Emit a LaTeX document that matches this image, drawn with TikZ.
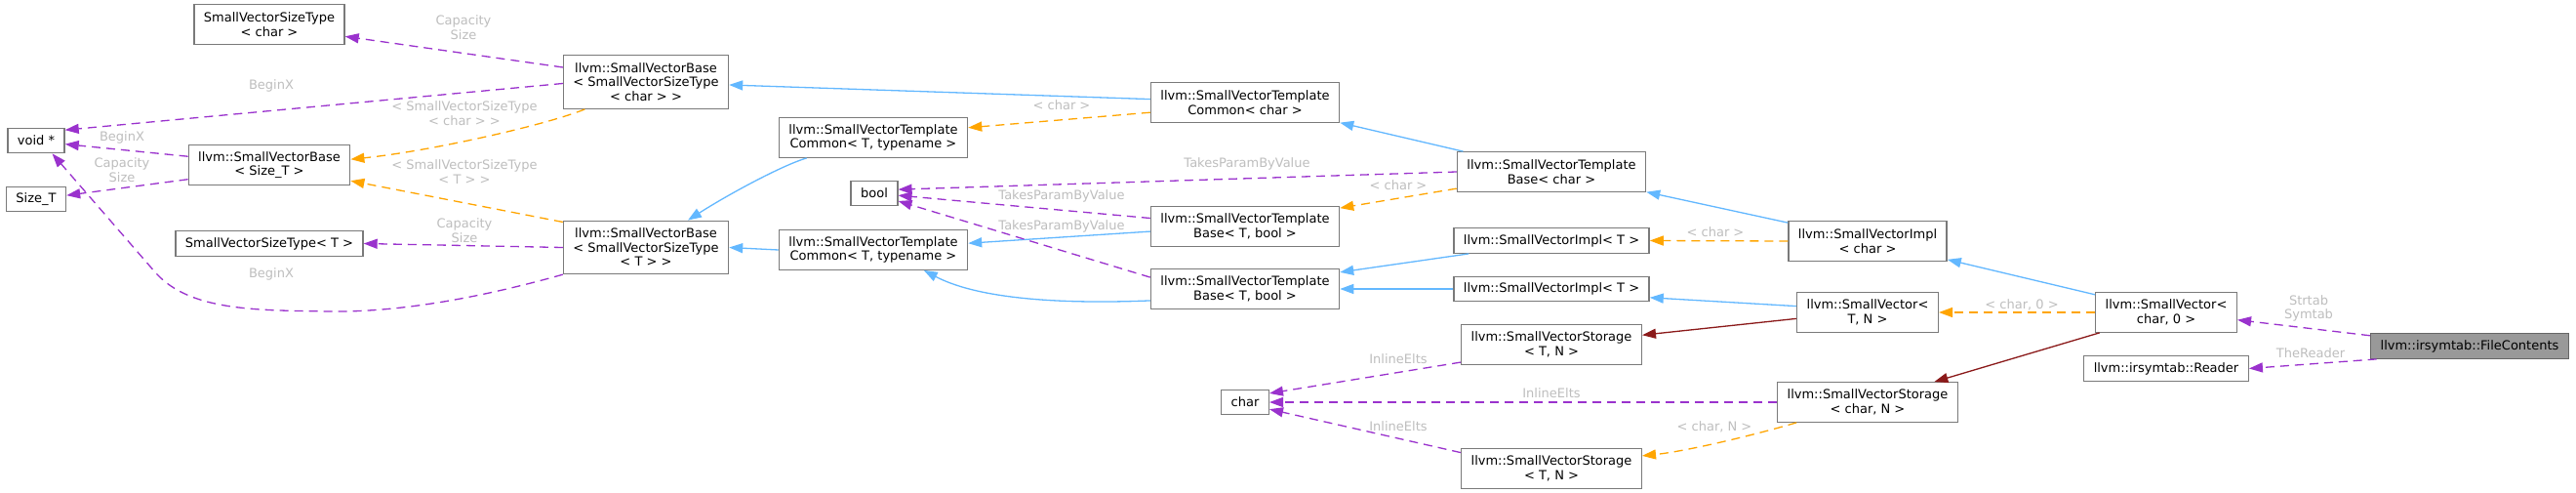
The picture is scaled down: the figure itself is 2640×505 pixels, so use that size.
\documentclass[tikz,border=0pt]{standalone}
\usepackage{fontspec}
\setmainfont{DejaVu Sans}
\usetikzlibrary{arrows.meta}
\definecolor{inhblue}{HTML}{63B8FF}
\definecolor{tplorange}{HTML}{FFA500}
\definecolor{usepurple}{HTML}{9A32CD}
\definecolor{protred}{HTML}{8B1A1A}
\definecolor{boxgrey}{HTML}{7A7A7A}
\definecolor{curedge}{HTML}{666666}
\definecolor{labgrey}{HTML}{BEBEBE}
\definecolor{curgrey}{HTML}{999999}
\newcommand\dfont{\fontsize{13}{14.5}\selectfont}
\tikzset{
  cls/.style={draw=boxgrey,line width=1.3pt,fill=white,font=\dfont,align=center,inner xsep=10pt,inner ysep=2pt,minimum height=25.5pt},
  cls2/.style={cls,minimum height=40.5pt},
  cls3/.style={cls,minimum height=54.5pt},
  lab/.style={font=\dfont,text=labgrey,align=center,inner sep=0pt},
  tip/.style={-{Triangle[length=14pt,width=10pt]},line width=1.3pt}
}

\begin{document}
\begin{tikzpicture}[x=1pt,y=-1pt,
 inh/.style={tip,draw=inhblue},
 prot/.style={tip,draw=protred},
 tpl/.style={tip,draw=tplorange,dash pattern=on 9pt off 6pt},
 use/.style={tip,draw=usepurple,dash pattern=on 9pt off 6pt}]
\path[fill=white,use as bounding box] (0,0) rectangle (2640,505);
\node[cls2] (svstChar) at (276,25) {SmallVectorSizeType\\< char >};
\node[cls3] (svbChar) at (662,84) {llvm::SmallVectorBase\\< SmallVectorSizeType\\< char > >};
\node[cls] (voidp) at (37,144) {void *};
\node[cls] (sizeT) at (37,204) {Size\_T};
\node[cls2] (svbSize) at (276,169) {llvm::SmallVectorBase\\< Size\_T >};
\node[cls] (svstT) at (276,249.5) {SmallVectorSizeType< T >};
\node[cls3] (svbT) at (662,253.5) {llvm::SmallVectorBase\\< SmallVectorSizeType\\< T > >};
\node[cls2] (svtcChar) at (1276,105) {llvm::SmallVectorTemplate\\Common< char >};
\node[cls2] (svtcT1) at (895,141) {llvm::SmallVectorTemplate\\Common< T, typename >};
\node[cls] (boolN) at (896,198) {bool};
\node[cls2] (svtbChar) at (1590,176) {llvm::SmallVectorTemplate\\Base< char >};
\node[cls2] (svtbT1) at (1276,232) {llvm::SmallVectorTemplate\\Base< T, bool >};
\node[cls2] (svtcT2) at (895,256) {llvm::SmallVectorTemplate\\Common< T, typename >};
\node[cls2] (svtbT2) at (1276,296) {llvm::SmallVectorTemplate\\Base< T, bool >};
\node[cls] (charN) at (1276,412) {char};
\node[cls] (sviT1) at (1590,246.5) {llvm::SmallVectorImpl< T >};
\node[cls] (sviT2) at (1590,296) {llvm::SmallVectorImpl< T >};
\node[cls2] (svsT1) at (1590,353) {llvm::SmallVectorStorage\\< T, N >};
\node[cls2] (sviChar) at (1914,247) {llvm::SmallVectorImpl\\< char >};
\node[cls2] (svTN) at (1914,320) {llvm::SmallVector<\\T, N >};
\node[cls2] (svsChar) at (1914,412) {llvm::SmallVectorStorage\\< char, N >};
\node[cls2] (svsT2) at (1590,480) {llvm::SmallVectorStorage\\< T, N >};
\node[cls2] (svChar0) at (2220,320) {llvm::SmallVector<\\char, 0 >};
\node[cls] (reader) at (2220,377.5) {llvm::irsymtab::Reader};
\node[cls,draw=curedge,fill=curgrey] (fileC) at (2531,354.5) {llvm::irsymtab::FileContents};
\draw[inh] (svtcChar.178) -- (svbChar.358);
\draw[inh] (svtcT1.197) .. controls (800,170) and (745,200) .. (svbT.33);
\draw[inh] (svtcT2.west) -- (svbT.east);
\draw[inh] (svtbChar.167) -- (svtcChar.348);
\draw[inh] (svtbT1.183) -- (svtcT2.4);
\draw[inh] (svtbT2.187) .. controls (1080,312) and (1000,305) .. (svtcT2.338);
\draw[inh] (sviT1.189) -- (svtbT2.10);
\draw[inh] (sviT2.west) -- (svtbT2.east);
\draw[inh] (sviChar.167) -- (svtbChar.348);
\draw[inh] (svTN.175) -- (sviT2.355);
\draw[inh] (svChar0.166) -- (sviChar.347);
\draw[prot] (svTN.185) -- (svsT1.6);
\draw[prot] (svChar0.197) -- (svsChar.17);
\draw[tpl] (svbChar.204) .. controls (560,128) and (440,155) .. (svbSize.4);
\draw[tpl] (svbT.163) -- (svbSize.349);
\draw[tpl] (svtcChar.186) -- (svtcT1.6);
\draw[tpl] (svtbChar.190) -- (svtbT1.11);
\draw[tpl] (sviChar.west) -- (sviT1.east);
\draw[tpl] (svChar0.west) -- (svTN.east);
\draw[tpl] (svsChar.196) .. controls (1800,445) and (1730,462) .. (svsT2.8);
\draw[use] (svbChar.170) -- (svstChar.351);
\draw[use] (svbChar.181) -- (voidp.20);
\draw[use] (svbSize.174) -- (voidp.353);
\draw[use] (svbSize.190) -- (sizeT.7);
\draw[use] (svbT.west) -- (svstT.east);
\draw[use] (svbT.198) .. controls (510,300) and (420,320) .. (339,319) .. controls (260,318) and (195,318) .. (160,280) -- (voidp.321);
\draw[use] (svtbChar.west) -- (boolN.9);
\draw[use] (svtbT1.175) -- (boolN.355);
\draw[use] (svtbT2.173) -- (boolN.342);
\draw[use] (svsT1.191) -- (charN.20);
\draw[use] (svsChar.west) -- (charN.east);
\draw[use] (svsT2.170) -- (charN.344);
\draw[use] (fileC.174) -- (svChar0.354);
\draw[use] (fileC.188) -- (reader.east);
\node[lab] (lbSzChar) at (476,116) {< SmallVectorSizeType\\< char > >};
\node[lab] (lbSzT) at (476,176) {< SmallVectorSizeType\\< T > >};
\node[lab] (lbCommon) at (1088,108) {< char >};
\node[lab] (lbBase) at (1433,190) {< char >};
\node[lab] (lbImpl) at (1758,238) {< char >};
\node[lab] (lbVec) at (2072,312) {< char, 0 >};
\node[lab] (lbStor) at (1757,437) {< char, N >};
\node[lab] (lbCap1) at (475,28) {Capacity\\Size};
\node[lab] (lbBeg1) at (278,88) {BeginX};
\node[lab] (lbBeg2) at (125,141) {BeginX};
\node[lab] (lbCap2) at (125,174) {Capacity\\Size};
\node[lab] (lbCap3) at (476,236) {Capacity\\Size};
\node[lab] (lbBeg3) at (278,281) {BeginX};
\node[lab] (lbTake1) at (1278,168) {TakesParamByValue};
\node[lab] (lbTake2) at (1088,201) {TakesParamByValue};
\node[lab] (lbTake3) at (1088,232) {TakesParamByValue};
\node[lab] (lbInl1) at (1433,368) {InlineElts};
\node[lab] (lbInl2) at (1590,403) {InlineElts};
\node[lab] (lbInl3) at (1433,437) {InlineElts};
\node[lab] (lbTab) at (2366,316) {Strtab\\Symtab};
\node[lab] (lbRead) at (2368,362) {TheReader};
\end{tikzpicture}
\end{document}
